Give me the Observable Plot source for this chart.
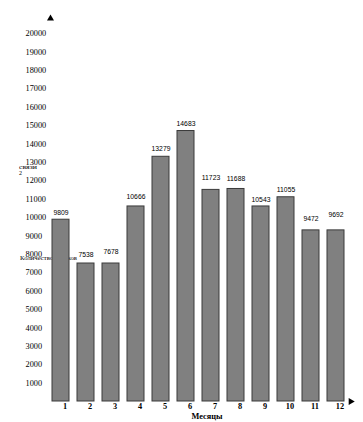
<!DOCTYPE html>
<html>
<head>
<meta charset="utf-8">
<script src="https://cdn.jsdelivr.net/npm/d3@7"></script>
<script src="https://cdn.jsdelivr.net/npm/@observablehq/plot@0.6"></script>
<style>
  body { margin: 0; background: #fff; }
  #chart svg { display: block; }
</style>
</head>
<body>
<div id="chart"></div>
<script>
const months = ["1","2","3","4","5","6","7","8","9","10","11","12"];
const labelValues = [9809, 7538, 7678, 10666, 13279, 14683, 11723, 11688, 10543, 11055, 9472, 9692];
const barHeights = [9880, 7500, 7500, 10600, 13300, 14700, 11500, 11550, 10600, 11100, 9300, 9300];
const yTicks = [1000,2000,3000,4000,5000,6000,7000,8000,9000,10000,11000,12000,13000,14000,15000,16000,17000,18000,19000,20000];
const xTitle = "Месяцы";
const yTitle = "Количество звонков";
const yTitleTop = "связи";

const data = months.map((m, i) => ({month: m, height: barHeights[i], label: labelValues[i]}));

const chart = Plot.plot({
  width: 363,
  height: 422,
  marginLeft: 50,
  marginRight: 17.3,
  marginTop: 33,
  marginBottom: 21,
  style: {background: "#fff", fontFamily: "'Liberation Serif', serif", color: "#000"},
  x: {domain: months, paddingInner: 0.32, paddingOuter: 0, label: null},
  y: {domain: [0, 20000], label: null},
  marks: [
    Plot.barY(data, {x: "month", y: "height", fill: "#808080", stroke: "#3a3a3a", strokeWidth: 1}),
    Plot.text(data, {x: "month", y: "label", text: d => String(d.label), dy: -8,
      fontSize: 6.8, fontFamily: "'Liberation Sans', sans-serif", fill: "#000"}),
    Plot.axisY({ticks: yTicks, tickSize: 0, tickPadding: 0, textAnchor: "start", dx: -25,
      fontSize: 8.3, fontFamily: "'Liberation Serif', serif", tickFormat: d => String(d)}),
    Plot.axisX({tickSize: 0, tickPadding: 2, dx: 4, fontSize: 8.3, fontFamily: "'Liberation Serif', serif", fontWeight: "bold"}),
    Plot.dot([0], {frameAnchor: "top-left", symbol: "triangle", r: 2.6, fill: "#000", stroke: null, dy: -15}),
    Plot.dot([0], {frameAnchor: "bottom-right", symbol: "triangle", r: 2.6, fill: "#000", stroke: null, rotate: 90, dx: 4.5})
  ]
});

const svg = d3.select(chart);
// x axis title
svg.append("text")
  .attr("x", 207).attr("y", 419)
  .attr("text-anchor", "middle")
  .attr("font-size", 8.3)
  .attr("font-family", "'Liberation Serif', serif")
  .attr("font-weight", "bold")
  .attr("fill", "#000")
  .text(xTitle);

// overlapping y titles (drawn behind bars, as in the reference)
const g = svg.insert("g", ":first-child")
  .attr("font-family", "'Liberation Serif', serif")
  .attr("text-anchor", "start")
  .attr("fill", "#000");
g.append("text")
  .attr("x", 20).attr("y", 259.5)
  .attr("font-size", 6.5)
  .attr("textLength", 57).attr("lengthAdjust", "spacingAndGlyphs")
  .text(yTitle);
g.append("text")
  .attr("x", 19).attr("y", 169)
  .attr("font-size", 6.5)
  .attr("textLength", 18).attr("lengthAdjust", "spacingAndGlyphs")
  .text(yTitleTop);
g.append("text")
  .attr("x", 19).attr("y", 175)
  .attr("font-size", 6)
  .text("2");

document.getElementById("chart").appendChild(chart);
</script>
</body>
</html>
